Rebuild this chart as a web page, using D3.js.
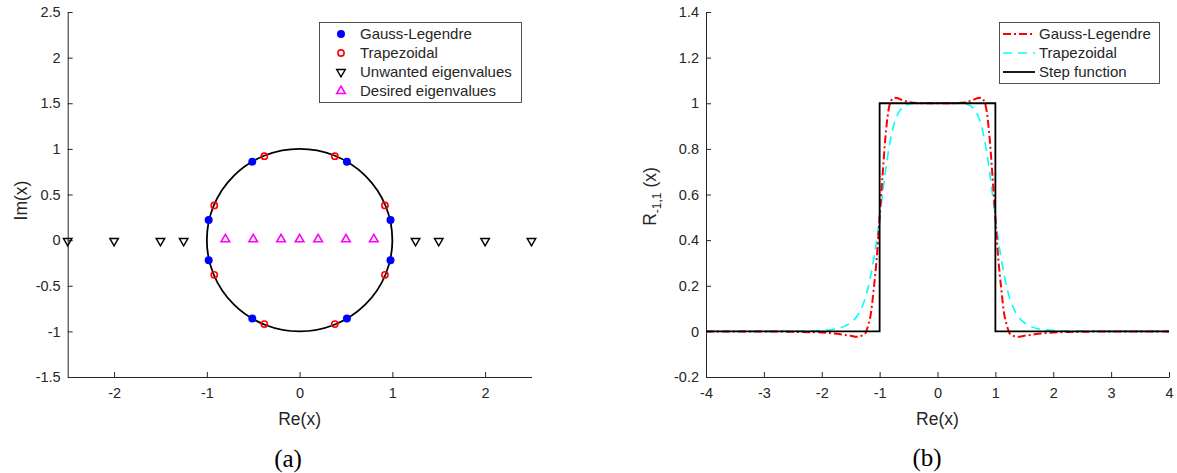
<!DOCTYPE html>
<html>
<head>
<meta charset="utf-8">
<script src="https://cdn.jsdelivr.net/npm/d3@7"></script>
<style>
  body { margin: 0; background: #fff; }
  svg text { font-family: "Liberation Sans", Arial, sans-serif; fill: #262626; }
</style>
</head>
<body>
<div id="chart"></div>
<script>
'use strict'

// ---------- data: panel (a) ----------
const glRe = [0.98, 0.51, -0.51, -0.98, -0.98, -0.51, 0.51, 0.98]
const glIm = [0.22, 0.86, 0.86, 0.22, -0.22, -0.86, -0.86, -0.22]
const trRe = [0.92, 0.38, -0.38, -0.92, -0.92, -0.38, 0.38, 0.92]
const trIm = [0.38, 0.92, 0.92, 0.38, -0.38, -0.92, -0.92, -0.38]
const unwanted = [-2.5, -2, -1.5, -1.25, 1.25, 1.5, 2, 2.5]
const desired = [-0.8, -0.5, -0.2, 0, 0.2, 0.5, 0.8]
const aXTicks = [-2, -1, 0, 1, 2]
const aYTicks = [-1.5, -1, -0.5, 0, 0.5, 1, 1.5, 2, 2.5]

// ---------- data: panel (b) ----------
const xs = [-4, -3, -2.5, -2, -1.8, -1.7, -1.6, -1.5, -1.4, -1.35, -1.3, -1.25, -1.2, -1.15, -1.1, -1.05,
  -1, -0.95, -0.9, -0.85, -0.8, -0.75, -0.7, -0.6, -0.5, -0.4, -0.3, 0,
  0.3, 0.4, 0.5, 0.6, 0.7, 0.75, 0.8, 0.85, 0.9, 0.95, 1,
  1.05, 1.1, 1.15, 1.2, 1.25, 1.3, 1.35, 1.4, 1.5, 1.6, 1.7, 1.8, 2, 2.5, 3, 4]
const gaussLeg = [0, 0, -0.002, -0.005, -0.009, -0.012, -0.016, -0.019, -0.024, -0.023, -0.018, -0.01, 0.025, 0.08, 0.19, 0.32,
  0.5, 0.68, 0.85, 0.965, 1.012, 1.024, 1.023, 1.013, 1.005, 1.002, 1.0, 1.0,
  1.0, 1.002, 1.005, 1.013, 1.023, 1.024, 1.012, 0.965, 0.85, 0.68, 0.5,
  0.32, 0.19, 0.08, 0.025, -0.01, -0.018, -0.023, -0.024, -0.019, -0.016, -0.012, -0.009, -0.005, -0.002, 0, 0]
const trapez = [0, 0, 0.001, 0.004, 0.009, 0.014, 0.023, 0.038, 0.063, 0.083, 0.11, 0.143, 0.19, 0.25, 0.32, 0.40,
  0.5, 0.60, 0.70, 0.786, 0.856, 0.91, 0.945, 0.983, 0.996, 0.999, 1.0, 1.0,
  1.0, 0.999, 0.996, 0.983, 0.945, 0.91, 0.856, 0.786, 0.70, 0.60, 0.5,
  0.40, 0.32, 0.25, 0.19, 0.143, 0.11, 0.083, 0.063, 0.038, 0.023, 0.014, 0.009, 0.004, 0.001, 0, 0]
const stepX = [-4, -1, -1, 1, 1, 4]
const stepY = [0, 0, 1, 1, 0, 0]
const bXTicks = [-4, -3, -2, -1, 0, 1, 2, 3, 4]
const bYTicks = [-0.2, 0, 0.2, 0.4, 0.6, 0.8, 1, 1.2, 1.4]

const W = 1177, H = 473
const svg = d3.select('#chart').append('svg')
  .attr('width', W).attr('height', H)

const plotTop = 12, plotBottom = 377
const fmt = d => String(d)   // plain hyphen minus, like the original

function axes(g, x, y, xt, yt) {
  const ax = g.append('g')
    .attr('transform', `translate(0,${plotBottom})`)
    .call(d3.axisBottom(x).tickValues(xt).tickSizeInner(-5).tickSizeOuter(0).tickPadding(11).tickFormat(fmt))
  const ay = g.append('g')
    .attr('transform', `translate(${x.range()[0]},0)`)
    .call(d3.axisLeft(y).tickValues(yt).tickSizeInner(-5).tickSizeOuter(0).tickPadding(7).tickFormat(fmt))
  ;[ax, ay].forEach(a => {
    a.select('.domain').attr('stroke', '#262626')
    a.selectAll('.tick line').attr('stroke', '#262626')
    a.selectAll('text').attr('font-size', 14.5).attr('fill', '#262626')
      .attr('font-family', '"Liberation Sans", Arial, sans-serif')
  })
}

// ====================== panel (a) ======================
const xa = d3.scaleLinear().domain([-2.5, 2.5]).range([67.7, 531.5])
const ya = d3.scaleLinear().domain([-1.5, 2.5]).range([plotBottom, plotTop])
const ga = svg.append('g')

axes(ga, xa, ya, aXTicks, aYTicks)

// unit circle
ga.append('ellipse')
  .attr('cx', xa(0)).attr('cy', ya(0))
  .attr('rx', xa(1) - xa(0)).attr('ry', ya(0) - ya(1))
  .attr('fill', 'none').attr('stroke', '#000').attr('stroke-width', 1.8)

const triDown = d3.symbol().type(d3.symbolTriangle).size(32)

ga.selectAll('.gl').data(glRe).join('circle')
  .attr('cx', (d, i) => xa(d)).attr('cy', (d, i) => ya(glIm[i]))
  .attr('r', 4).attr('fill', '#0000ff')

ga.selectAll('.tr').data(trRe).join('circle')
  .attr('cx', (d, i) => xa(d)).attr('cy', (d, i) => ya(trIm[i]))
  .attr('r', 3.1).attr('fill', 'none').attr('stroke', '#ff0000').attr('stroke-width', 1.6)

ga.selectAll('.uw').data(unwanted).join('path')
  .attr('d', triDown)
  .attr('transform', d => `translate(${xa(d)},${ya(0) + 0.8}) rotate(180)`)
  .attr('fill', 'none').attr('stroke', '#000').attr('stroke-width', 1.4)

ga.selectAll('.de').data(desired).join('path')
  .attr('d', triDown)
  .attr('transform', d => `translate(${xa(d)},${ya(0) - 0.8})`)
  .attr('fill', 'none').attr('stroke', '#ff00ff').attr('stroke-width', 1.6)

// legend (a)
const la = ga.append('g')
la.append('rect').attr('x', 319.5).attr('y', 22.5).attr('width', 202).attr('height', 80)
  .attr('fill', '#fff').attr('stroke', '#262626').attr('stroke-width', 0.8)
const aLegend = ['Gauss-Legendre', 'Trapezoidal', 'Unwanted eigenvalues', 'Desired eigenvalues']
aLegend.forEach((t, i) => {
  const yy = 34 + i * 19
  if (i === 0) la.append('circle').attr('cx', 341).attr('cy', yy).attr('r', 4).attr('fill', '#0000ff')
  if (i === 1) la.append('circle').attr('cx', 341).attr('cy', yy).attr('r', 3.1)
    .attr('fill', 'none').attr('stroke', '#ff0000').attr('stroke-width', 1.6)
  if (i === 2) la.append('path').attr('d', triDown).attr('transform', `translate(341,${yy}) rotate(180)`)
    .attr('fill', 'none').attr('stroke', '#000').attr('stroke-width', 1.4)
  if (i === 3) la.append('path').attr('d', triDown).attr('transform', `translate(341,${yy})`)
    .attr('fill', 'none').attr('stroke', '#ff00ff').attr('stroke-width', 1.6)
  la.append('text').attr('x', 360).attr('y', yy).attr('dy', '0.35em')
    .attr('font-size', 15).text(t)
})

ga.append('text').attr('x', xa(0)).attr('y', 419).attr('dy', '0.35em')
  .attr('text-anchor', 'middle').attr('font-size', 17.5).text('Re(x)')
ga.append('text').attr('transform', `translate(21,${(plotTop + plotBottom) / 2 + 6}) rotate(-90)`)
  .attr('dy', '0.35em').attr('text-anchor', 'middle').attr('font-size', 17.5).text('Im(x)')
ga.append('text').attr('x', 288).attr('y', 458).attr('dy', '0.35em')
  .attr('text-anchor', 'middle').attr('font-size', 25)
  .style('font-family', '"Liberation Serif", "Times New Roman", serif').style('fill', '#000').text('(a)')

// ====================== panel (b) ======================
const xb = d3.scaleLinear().domain([-4, 4]).range([706, 1169])
const yb = d3.scaleLinear().domain([-0.2, 1.4]).range([plotBottom, plotTop])
const gb = svg.append('g')

axes(gb, xb, yb, bXTicks, bYTicks)

const line = d3.line().x(d => xb(d[0])).y(d => yb(d[1])).curve(d3.curveMonotoneX)
const lineStep = d3.line().x(d => xb(d[0])).y(d => yb(d[1]))

gb.append('path').datum(xs.map((x, i) => [x, trapez[i]])).attr('d', line)
  .attr('fill', 'none').attr('stroke', '#00ffff').attr('stroke-width', 1.6).attr('stroke-dasharray', '9,6')
gb.append('path').datum(xs.map((x, i) => [x, gaussLeg[i]])).attr('d', line)
  .attr('fill', 'none').attr('stroke', '#ff0000').attr('stroke-width', 2).attr('stroke-dasharray', '8,3,2,3')
gb.append('path').datum(stepX.map((x, i) => [x, stepY[i]])).attr('d', lineStep)
  .attr('fill', 'none').attr('stroke', '#000').attr('stroke-width', 1.8)

// legend (b)
const lb = gb.append('g')
lb.append('rect').attr('x', 999.5).attr('y', 22.5).attr('width', 160).attr('height', 61)
  .attr('fill', '#fff').attr('stroke', '#262626').attr('stroke-width', 0.8)
const bLegend = ['Gauss-Legendre', 'Trapezoidal', 'Step function']
const bStroke = ['#ff0000', '#00ffff', '#000']
const bDash = ['8,3,2,3', '9,6', null]
const bWidth = [2, 1.6, 1.8]
bLegend.forEach((t, i) => {
  const yy = 34 + i * 19
  lb.append('line').attr('x1', 1003).attr('x2', 1035).attr('y1', yy).attr('y2', yy)
    .attr('stroke', bStroke[i]).attr('stroke-width', bWidth[i]).attr('stroke-dasharray', bDash[i])
  lb.append('text').attr('x', 1039).attr('y', yy).attr('dy', '0.35em')
    .attr('font-size', 15).text(t)
})

gb.append('text').attr('x', xb(0)).attr('y', 419).attr('dy', '0.35em')
  .attr('text-anchor', 'middle').attr('font-size', 17.5).text('Re(x)')
const yl = gb.append('text').attr('transform', `translate(656,${(plotTop + plotBottom) / 2 + 2}) rotate(-90)`)
  .attr('text-anchor', 'middle').attr('font-size', 17.5)
yl.append('tspan').text('R')
yl.append('tspan').attr('dy', 5).attr('font-size', 12).text('-1,1')
yl.append('tspan').attr('dy', -5).text(' (x)')
gb.append('text').attr('x', 927).attr('y', 457).attr('dy', '0.35em')
  .attr('text-anchor', 'middle').attr('font-size', 25)
  .style('font-family', '"Liberation Serif", "Times New Roman", serif').style('fill', '#000').text('(b)')
</script>
</body>
</html>
